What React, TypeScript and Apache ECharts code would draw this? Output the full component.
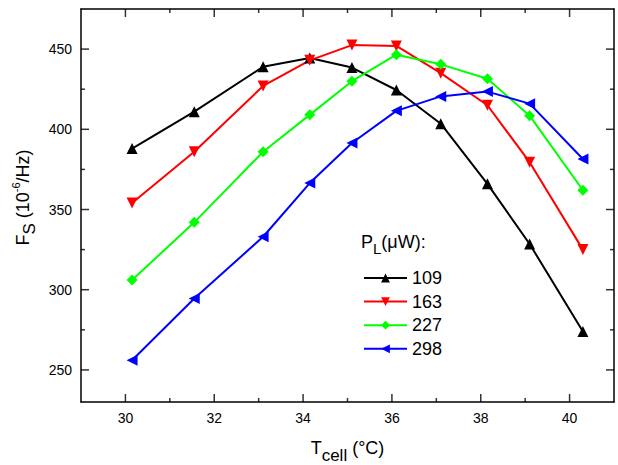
import { useEffect, useRef } from "react";
import * as echarts from "echarts";

// Cell temperature (°C) for each measurement
const temperatures = [30.15, 31.55, 33.1, 34.15, 35.1, 36.1, 37.1, 38.15, 39.1, 40.3];

// F_S (10^-6/Hz) for each laser power P_L (µW)
const fs109 = [388, 411, 439, 444.5, 438.5, 424.5, 403.5, 366, 328.5, 274];
const fs163 = [354, 386, 427, 443, 452.5, 452, 435, 415, 379.5, 325];
const fs227 = [306, 342, 386, 409, 430, 446.5, 440.5, 431.5, 408.5, 362];
const fs298 = [256, 294.5, 333, 366.5, 391.5, 411.5, 420.5, 423.5, 416, 381.5];

const powerLabels = ["109", "163", "227", "298"];

const xMajorTicks = [30, 32, 34, 36, 38, 40];
const xMinorTicks = [31, 33, 35, 37, 39];
const yMajorTicks = [250, 300, 350, 400, 450];
const yMinorTicks = [275, 325, 375, 425];

const X_MIN = 29;
const X_MAX = 41;
const Y_MIN = 230;
const Y_MAX = 475;

const FONT = "'Liberation Sans', Arial, Helvetica, sans-serif";
const MAJOR_LEN = 8;
const MINOR_LEN = 4;
const TICK_W = 1.5;

const pairs = (ys: number[]) => temperatures.map((t, i) => [t, ys[i]]);

const frameLine = { show: true, lineStyle: { color: "#000", width: 1.5 } };

// Inward tick marks on the frame, placed through the chart's own scales:
// a thin rect symbol anchored on the frame edge and shifted into the plot.
type Side = "bottom" | "top" | "left" | "right";
const tickSeries = (side: Side, values: number[], len: number) => {
  const horizontal = side === "bottom" || side === "top";
  const data = values.map((v) =>
    side === "bottom" ? [v, Y_MIN] : side === "top" ? [v, Y_MAX] : side === "left" ? [X_MIN, v] : [X_MAX, v]
  );
  const offset =
    side === "bottom" ? [0, -len / 2] : side === "top" ? [0, len / 2] : side === "left" ? [len / 2, 0] : [-len / 2, 0];
  return {
    type: "scatter",
    xAxisIndex: 0,
    yAxisIndex: 0,
    data,
    symbol: "rect",
    symbolSize: horizontal ? [TICK_W, len] : [len, TICK_W],
    symbolOffset: offset,
    itemStyle: { color: "#000" },
    silent: true,
    clip: false,
    z: 5,
  };
};

export default function App() {
  const ref = useRef<HTMLDivElement>(null);

  useEffect(() => {
    if (!ref.current) return;
    const chart = echarts.init(ref.current, undefined, { renderer: "svg" });

    const markerSeries = (name: string, ys: number[], color: string, symbol: string, rotate: number) => ({
      name,
      type: "line",
      data: pairs(ys),
      xAxisIndex: 0,
      yAxisIndex: 0,
      symbol,
      symbolSize: 11,
      symbolRotate: rotate,
      lineStyle: { color, width: 2 },
      itemStyle: { color },
    });

    const sides: Side[] = ["bottom", "top", "left", "right"];
    const ticks = sides.flatMap((side) => {
      const horizontal = side === "bottom" || side === "top";
      return [
        tickSeries(side, horizontal ? xMajorTicks : yMajorTicks, MAJOR_LEN),
        tickSeries(side, horizontal ? xMinorTicks : yMinorTicks, MINOR_LEN),
      ];
    });

    chart.setOption({
      animation: false,
      backgroundColor: "#fff",
      grid: { left: 81, top: 9, right: 4, bottom: 63, containLabel: false, outerBoundsMode: "none" },
      xAxis: [
        {
          type: "value",
          min: X_MIN,
          max: X_MAX,
          position: "bottom",
          splitLine: { show: false },
          axisLine: frameLine,
          axisTick: { show: false },
          axisLabel: { show: true, customValues: xMajorTicks, fontSize: 14, color: "#000", fontFamily: FONT, margin: 9 },
          name: "{a|T}{b|cell}{a| (°C)}",
          nameLocation: "middle",
          nameGap: 37,
          nameTextStyle: {
            fontFamily: FONT,
            color: "#000",
            rich: {
              a: { fontSize: 18, fontFamily: FONT, color: "#000", lineHeight: 18, verticalAlign: "top" },
              b: { fontSize: 17, fontFamily: FONT, color: "#000", lineHeight: 17, verticalAlign: "top", padding: [8, 0, 0, 0] },
            },
          },
        },
        {
          type: "value",
          min: X_MIN,
          max: X_MAX,
          position: "top",
          splitLine: { show: false },
          axisLine: frameLine,
          axisTick: { show: false },
          axisLabel: { show: false },
        },
      ],
      yAxis: [
        {
          type: "value",
          min: Y_MIN,
          max: Y_MAX,
          position: "left",
          splitLine: { show: false },
          axisLine: frameLine,
          axisTick: { show: false },
          axisLabel: { show: true, customValues: yMajorTicks, fontSize: 14, color: "#000", fontFamily: FONT, margin: 9 },
          name: "{p|}{a|F}{b|S}{a| (10}{c|-6}{a|/Hz)}",
          nameLocation: "middle",
          nameGap: 47,
          nameTextStyle: {
            fontFamily: FONT,
            color: "#000",
            rich: {
              p: { width: 16 },
              a: { fontSize: 18, fontFamily: FONT, color: "#000", lineHeight: 18, verticalAlign: "top", padding: [3, 0, 0, 0] },
              b: { fontSize: 17, fontFamily: FONT, color: "#000", lineHeight: 17, verticalAlign: "top", padding: [10, 0, 0, 0] },
              c: { fontSize: 11, fontFamily: FONT, color: "#000", lineHeight: 11, verticalAlign: "top" },
            },
          },
        },
        {
          type: "value",
          min: Y_MIN,
          max: Y_MAX,
          position: "right",
          splitLine: { show: false },
          axisLine: frameLine,
          axisTick: { show: false },
          axisLabel: { show: false },
        },
      ],
      legend: {
        orient: "vertical",
        left: 358,
        top: 264,
        itemWidth: 43,
        itemHeight: 11,
        itemGap: 5.6,
        selectedMode: false,
        textStyle: { fontSize: 18, color: "#000", fontFamily: FONT, lineHeight: 18 },
        data: powerLabels,
      },
      graphic: [
        {
          type: "text",
          left: 361,
          top: 233,
          style: {
            text: "{a|P}{b|L}{a|(μW):}",
            rich: {
              a: { fontSize: 18, fontFamily: FONT, fill: "#000", lineHeight: 18, verticalAlign: "top" },
              b: { fontSize: 15, fontFamily: FONT, fill: "#000", lineHeight: 15, verticalAlign: "top", padding: [8, 0, 0, 0] },
            },
          },
        },
      ],
      series: [
        markerSeries(powerLabels[0], fs109, "#000000", "triangle", 0),
        markerSeries(powerLabels[1], fs163, "#ff0000", "triangle", 180),
        markerSeries(powerLabels[2], fs227, "#00ff00", "diamond", 0),
        markerSeries(powerLabels[3], fs298, "#0000ff", "triangle", 90),
        ...ticks,
      ],
    });

    return () => chart.dispose();
  }, []);

  return (
    <div
      ref={ref}
      style={{ position: "absolute", left: 0, top: 0, width: 618, height: 465, background: "#fff" }}
    />
  );
}
